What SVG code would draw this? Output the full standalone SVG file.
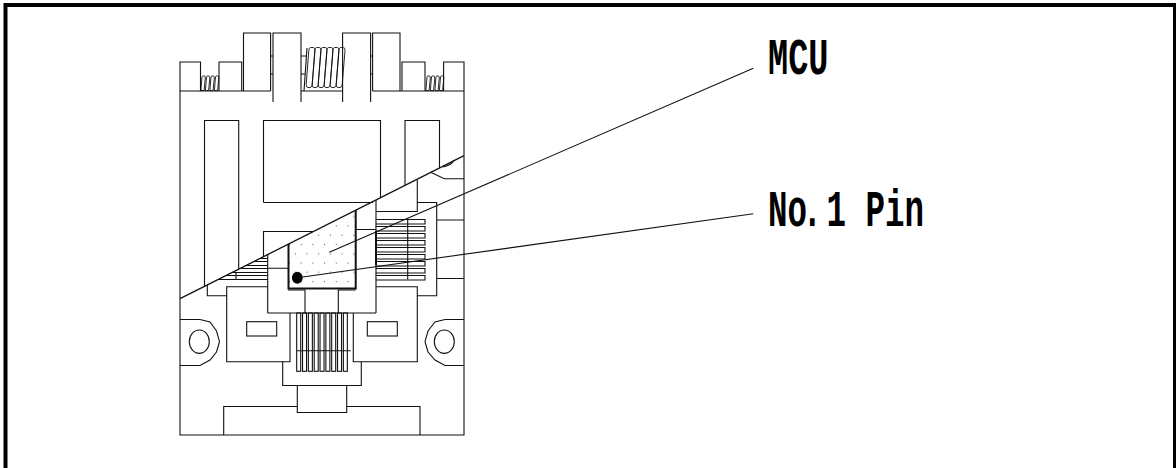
<svg xmlns="http://www.w3.org/2000/svg" width="1176" height="468" viewBox="0 0 1176 468">
<style>
.l{fill:none;stroke:#111;stroke-width:1.1}
.t{stroke:#111;stroke-width:1.3;fill:none}
.c{fill:none;stroke:#111;stroke-width:.9}
.h{fill:none;stroke:#111;stroke-width:2}
.lab{font-family:"Liberation Mono",monospace;font-size:52px;font-weight:700;fill:#000}
</style>
<defs>
<pattern id="stip" width="11.7" height="18.6" patternUnits="userSpaceOnUse" x="289" y="240">
<rect x="0" y="4" width="1" height="1" fill="#444"/><rect x="5.8" y="13.3" width="1" height="1" fill="#444"/>
</pattern>
<g id="pinH"><path class="l" d="M375.7 219.5H425V224H375.7"/></g>
<g id="pinV"><rect class="l" x="296.7" y="313" width="4" height="58.3"/></g>
<path id="turn" d="M2.6 0H5.2Q7.2 0 7 3L4.2 37Q4 40 2 40H0Q-2 40 -1.8 37L.8 3Q1 0 2.6 0Z"/>
<path id="sturn" d="M1.2 0H2.8Q4 0 3.8 2L2.6 14.5H-.6L.4 2Q.5 0 1.2 0Z"/>
</defs>
<g id="frame"><path d="M5.5 468V5H1175V468" fill="none" stroke="#000" stroke-width="4"/></g>
<g id="housing">
<path class="l" d="M464 91V435H180V91H200.5V62H180V91M219 91V62H241.7V91H219M243.5 91V33H270.6V91M180 91H270.6M273 102V33H301V102M301 91H343M342.6 102V33H370.6V102M372.6 91V33H400V91H372.6M402 91V62H425V91H402M400 91H464V62H443.6V91M425 91H443.6"/>
<path class="l" d="M270.6 56H273M270.6 74H273M370.6 56H372.6M370.6 74H372.6M301 56H306M301 74H305M304 91L307 48"/>
<path class="l" d="M204.5 286.5V120.5H238.7V269M263.5 257V231.5H313M263.5 202.5V120.5H380.5V197M263.5 202.5H373M405 185V120.5H439.5V167.7"/>
<path class="l" d="M430.7 172.3L444.3 178.7H464M443 167Q452 165 454 160"/>
<path class="l" d="M376 200V313M267.7 254V313M267.7 313H376M376 211.5H417.3V180M417.3 202.5H436.7V295.7H417.3M436.7 220H464M436.7 278.5H464M355 229.5H376"/>
<path class="l" d="M376 286.7H417.3V361.7H353.3V313M267.7 286.7H226.7V361.7H290V313M267.7 268.3H288M288 290H305V313M338.3 313V290H355.7M207.3 285V295.7H226.7"/>
<path class="l" d="M282.7 361.7V385.5H361.3V361.7M297.3 385.5V412.5H346.7V385.5M223.7 435V406.5H297.3M346.7 406.5H420V435"/>
<path class="l" d="M180 319.5H200L210 322L216.5 331L219.5 341.7L216.5 352L210 360L200 365.5H180M464 319.5H445L435 322L428 331L425 341.7L428 352L435 360L445 365.5H464"/>
<ellipse class="l" cx="199.3" cy="341.7" rx="10" ry="11.7"/>
<ellipse class="l" cx="444.3" cy="341.7" rx="10" ry="11.7"/>
<rect class="l" x="246.7" y="321.7" width="30" height="14.3"/>
<rect class="l" x="367.3" y="321.7" width="30" height="14.3"/>
</g>
<g id="springs" class="c">
<use href="#turn" x="308" y="47.5"/><use href="#turn" x="314" y="47.5"/><use href="#turn" x="320" y="47.5"/><use href="#turn" x="326" y="47.5"/><use href="#turn" x="332" y="47.5"/><use href="#turn" x="338" y="47.5"/>
<use href="#sturn" x="201.5" y="76"/><use href="#sturn" x="206" y="76"/><use href="#sturn" x="210.5" y="76"/><use href="#sturn" x="215" y="76"/>
<use href="#sturn" x="426.5" y="76"/><use href="#sturn" x="431" y="76"/><use href="#sturn" x="435.5" y="76"/><use href="#sturn" x="440" y="76"/>
</g>
<g id="pins-right">
<use href="#pinH"/><use href="#pinH" y="7"/><use href="#pinH" y="14"/><use href="#pinH" y="21"/><use href="#pinH" y="28"/><use href="#pinH" y="35"/><use href="#pinH" y="42"/><use href="#pinH" y="49"/><use href="#pinH" y="56"/>
<path class="l" d="M407.7 219V279.5"/>
<path class="h" d="M376 231V265"/>
</g>
<g id="pins-left">
<path class="l" d="M259.8 258.5H267.7M254.9 261.5H267.7M245.9 265.5H267.7M241 268.5H267.7M232 272.5H267.7M227 275.5H267.7M218 279.5H267.7M236 272.5V279.5"/>
</g>
<g id="pins-bottom">
<use href="#pinV"/><use href="#pinV" x="5.83"/><use href="#pinV" x="11.66"/><use href="#pinV" x="17.5"/><use href="#pinV" x="23.33"/><use href="#pinV" x="29.16"/><use href="#pinV" x="35"/><use href="#pinV" x="40.83"/><use href="#pinV" x="46.66"/>
<path class="l" d="M296.7 350.7H350.7"/>
</g>
<g id="mcu">
<path d="M288.5 244V288.5H355.7V210L288.5 244Z" fill="url(#stip)"/>
<path class="h" d="M288.5 244V288.5H355.7V210"/>
<ellipse cx="297.3" cy="277.7" rx="5.4" ry="6" fill="#000"/>
</g>
<g id="cut"><path class="t" d="M180 298.7L464 155.7"/></g>
<g id="connectors">
<path class="l" d="M329.3 252.3L753.3 68.3"/>
<path class="l" d="M297.3 277.7L753.3 213.7"/>
</g>
<g id="labels">
<text class="lab" transform="translate(768,73.5) scale(.645,1)">MCU</text>
<text class="lab" transform="translate(768,226) scale(.625,1)" x="0 31.2 55.4 93.6 124.8 156 187.2 218.4">No.1 Pin</text>
</g>
</svg>
